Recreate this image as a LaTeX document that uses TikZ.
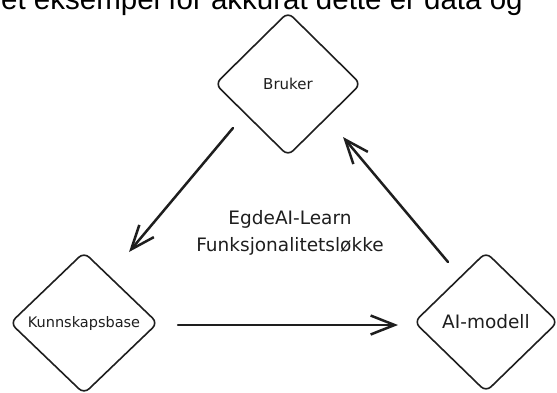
\documentclass[tikz,border=0pt]{standalone}
\usepackage{fontspec}
\setmainfont{DejaVu Sans}
\newfontfamily\topfont{Liberation Sans}
\usetikzlibrary{shapes.geometric,arrows.meta,positioning}
\definecolor{ink}{HTML}{1E1E1E}

\begin{document}
\begin{tikzpicture}[x=1pt,y=-1pt,
        box/.style={diamond,draw=ink,line width=1.6pt,rounded corners=7pt,inner sep=0pt,text=ink},
        flow/.style={draw=ink,line width=2.5pt,line cap=round,-{Straight Barb[length=24pt,width=19pt]}}]
        \useasboundingbox (0,0) rectangle (557,392);
        \node[anchor=base west,inner sep=0pt,font=\topfont\fontsize{29.5}{32}\selectfont] (intro) at (1,9) {et eksempel for akkurat dette er data og};
        \node[box,minimum width=146pt,minimum height=144pt,font=\fontsize{15}{18}\selectfont] (bruker) at (288,84) {Bruker};
        \node[box,minimum width=148pt,minimum height=142pt,font=\fontsize{14.5}{18}\selectfont] (kunnskap) at (84,323) {Kunnskapsbase};
        \node[box,minimum width=144pt,minimum height=140pt,font=\fontsize{18.5}{22}\selectfont] (modell) at (486,322) {AI-modell};
        \node[align=center,text=ink,font=\fontsize{18.5}{27}\selectfont] (loop) at (290,233) {EgdeAI-Learn\\Funksjonalitetsløkke};
        \draw[flow] ([shift={(-55,44)}]bruker.center) -- ([shift={(45,-71)}]kunnskap.center);
        \draw[flow] ([shift={(94,2)}]kunnskap.center) -- ([shift={(-88,3)}]modell.center);
        \draw[flow] ([shift={(-38,-60)}]modell.center) -- ([shift={(55,53)}]bruker.center);
\end{tikzpicture}
\end{document}
